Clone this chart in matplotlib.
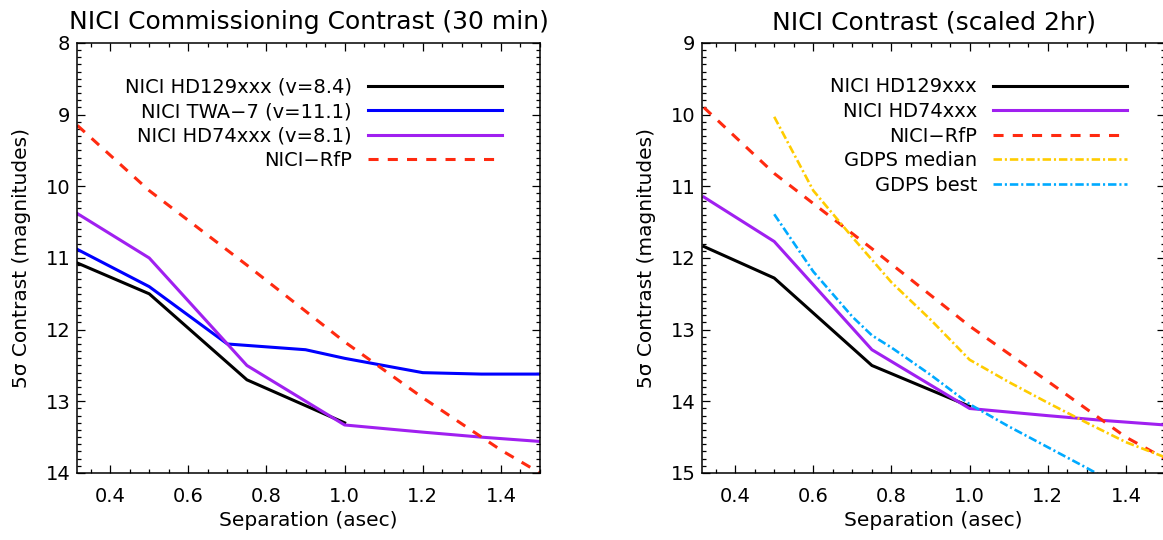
import matplotlib
matplotlib.use("Agg")
import matplotlib.pyplot as plt
from matplotlib.ticker import MultipleLocator, FormatStrFormatter

# --- left panel: 30 min commissioning data ---
sep_hd129 = [0.316, 0.5, 0.75, 1.0]
mag_hd129 = [11.07, 11.5, 12.7, 13.3]

sep_twa7 = [0.316, 0.5, 0.7, 0.9, 1.0, 1.2, 1.35, 1.5]
mag_twa7 = [10.88, 11.4, 12.2, 12.28, 12.4, 12.6, 12.62, 12.62]

sep_hd74 = [0.316, 0.5, 0.75, 1.0, 1.2, 1.35, 1.5]
mag_hd74 = [10.38, 11.0, 12.5, 13.33, 13.43, 13.5, 13.56]

sep_rfp = [0.316, 0.5, 0.75, 1.0, 1.2, 1.4, 1.5]
mag_rfp = [9.15, 10.06, 11.1, 12.17, 12.95, 13.68, 14.0]

# --- right panel: scaled to 2 hr ---
sep2_hd129 = [0.32, 0.5, 0.75, 1.0]
mag2_hd129 = [11.84, 12.28, 13.5, 14.07]

sep2_hd74 = [0.32, 0.5, 0.75, 1.0, 1.2, 1.35, 1.5]
mag2_hd74 = [11.15, 11.77, 13.28, 14.1, 14.2, 14.27, 14.33]

sep2_rfp = [0.32, 0.5, 0.75, 1.0, 1.2, 1.4, 1.5]
mag2_rfp = [9.9, 10.82, 11.87, 12.95, 13.72, 14.5, 14.8]

sep_gdps_med = [0.5, 0.6, 0.7, 0.8, 0.9, 1.0, 1.1, 1.2, 1.3, 1.4, 1.5]
mag_gdps_med = [10.03, 11.06, 11.71, 12.34, 12.86, 13.42, 13.73, 14.02, 14.3, 14.57, 14.78]

sep_gdps_best = [0.5, 0.6, 0.7, 0.75, 0.8, 0.9, 1.0, 1.1, 1.2, 1.3, 1.35]
mag_gdps_best = [11.39, 12.19, 12.82, 13.08, 13.25, 13.63, 14.04, 14.35, 14.64, 14.93, 15.08]

RED = "#ff2a10"
BLUE = "#0000ff"
PURPLE = "#a020f0"
GOLD = "#ffcc00"
SKY = "#00aaff"

plt.rcParams["font.family"] = "DejaVu Sans"

fig = plt.figure(figsize=(11.63, 5.4), dpi=100)
ax1 = fig.add_axes([0.0665, 0.1241, 0.3978, 0.7963])
ax2 = fig.add_axes([0.6039, 0.1241, 0.3978, 0.7963])

lw = 2.2
ax1.plot(sep_hd129, mag_hd129, color="black", lw=lw, label="NICI HD129xxx (v=8.4)")
ax1.plot(sep_twa7, mag_twa7, color=BLUE, lw=lw, label="NICI TWA\u22127 (v=11.1)")
ax1.plot(sep_hd74, mag_hd74, color=PURPLE, lw=lw, label="NICI HD74xxx (v=8.1)")
ax1.plot(sep_rfp, mag_rfp, color=RED, lw=lw, dashes=(3.3, 3.0), label="NICI\u2212RfP")

ax2.plot(sep2_hd129, mag2_hd129, color="black", lw=lw, label="NICI HD129xxx")
ax2.plot(sep2_hd74, mag2_hd74, color=PURPLE, lw=lw, label="NICI HD74xxx")
ax2.plot(sep2_rfp, mag2_rfp, color=RED, lw=lw, dashes=(3.3, 3.0), label="NICI\u2212RfP")
ax2.plot(sep_gdps_med, mag_gdps_med, color=GOLD, lw=1.9, dashes=(3.2, 1.1, 0.8, 1.1),
         label="GDPS median")
ax2.plot(sep_gdps_best, mag_gdps_best, color=SKY, lw=1.9, dashes=(3.2, 1.1, 0.8, 1.1),
         label="GDPS best")

fs = 14
for ax, ylim, title in [(ax1, (14, 8), "NICI Commissioning Contrast (30 min)"),
                        (ax2, (15, 9), "NICI Contrast (scaled 2hr)")]:
    ax.set_xlim(0.316, 1.5)
    ax.set_ylim(*ylim)
    ax.xaxis.set_major_locator(MultipleLocator(0.2))
    ax.xaxis.set_minor_locator(MultipleLocator(0.05))
    ax.yaxis.set_major_locator(MultipleLocator(1))
    ax.yaxis.set_minor_locator(MultipleLocator(0.1))
    ax.xaxis.set_major_formatter(FormatStrFormatter("%.1f"))
    ax.tick_params(which="both", direction="in", top=True, right=True, width=0.9,
                   labelsize=fs)
    ax.tick_params(which="major", length=6)
    ax.tick_params(which="minor", length=3)
    ax.tick_params(axis="x", pad=10)
    ax.tick_params(axis="y", pad=5)
    for s in ax.spines.values():
        s.set_linewidth(1.1)
    ax.set_title(title, fontsize=18, pad=10)
    ax.set_xlabel("Separation (asec)", fontsize=14.5)
    ax.set_ylabel("5\u03c3 Contrast (magnitudes)", fontsize=14.5)
    ax.xaxis.set_label_coords(0.5, -0.088)
    ax.yaxis.set_label_coords(-0.1, 0.5)
    ax.legend(loc="upper right", bbox_to_anchor=(0.918, 0.92), markerfirst=False,
              frameon=False, fontsize=fs, handlelength=6.9, handletextpad=0.82,
              labelspacing=0.29, borderpad=0, borderaxespad=0)

fig.savefig("out.png", dpi=100)
